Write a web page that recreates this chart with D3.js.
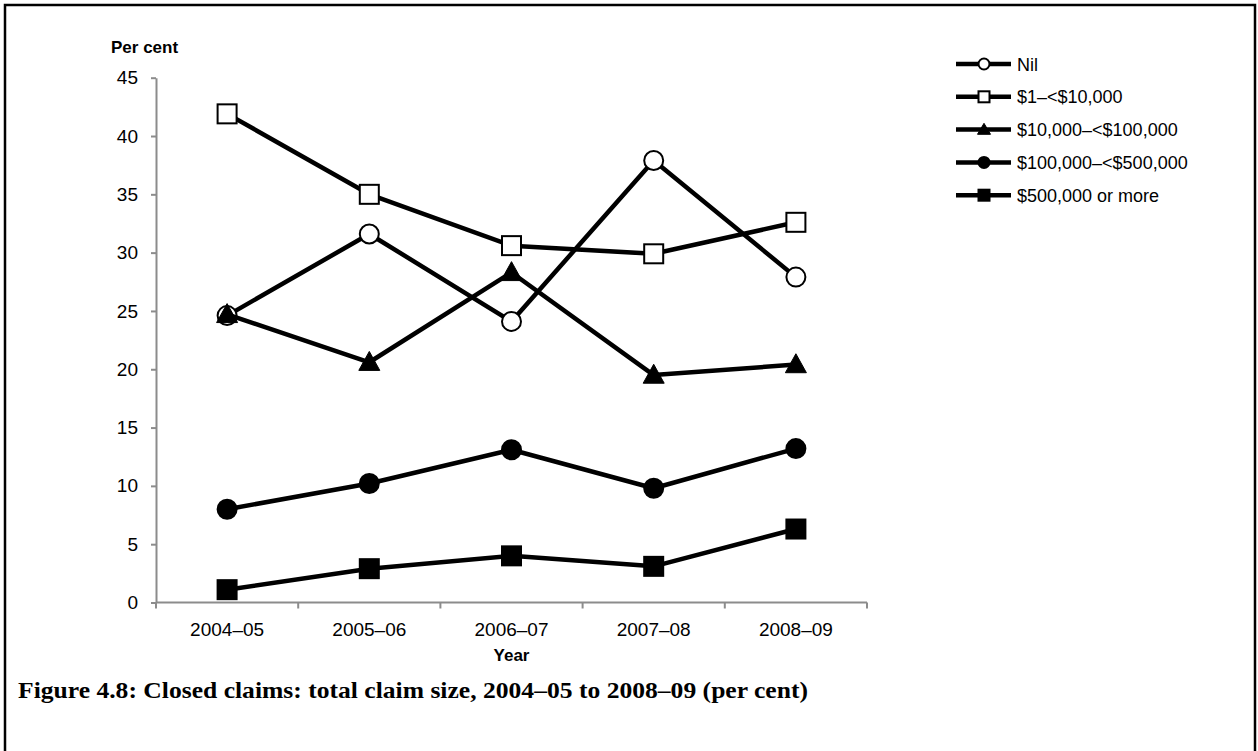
<!DOCTYPE html>
<html>
<head>
<meta charset="utf-8">
<script src="https://cdn.jsdelivr.net/npm/d3@7"></script>
<style>
  html, body { margin: 0; padding: 0; background: #fff; }
  svg { display: block; }
</style>
</head>
<body>
<svg id="chart" width="1258" height="751"></svg>
<script>
// Financial years on the category axis
const years = ["2004\u201305", "2005\u201306", "2006\u201307", "2007\u201308", "2008\u201309"];

// Share of closed claims (per cent) by total claim size
const nilValues      = [24.6, 31.6, 24.1, 37.9, 27.9];
const under10kValues = [41.9, 35.0, 30.6, 29.9, 32.6];
const under100kValues = [24.7, 20.6, 28.3, 19.5, 20.4];
const under500kValues = [8.0, 10.2, 13.1, 9.8, 13.2];
const over500kValues = [1.1, 2.9, 4.0, 3.1, 6.3];

const seriesNames = ["Nil", "$1\u2013<$10,000", "$10,000\u2013<$100,000", "$100,000\u2013<$500,000", "$500,000 or more"];
const seriesSymbols = ["circle-open", "square-open", "triangle", "circle", "square"];
const yTicks = [0, 5, 10, 15, 20, 25, 30, 35, 40, 45];

const series = [nilValues, under10kValues, under100kValues, under500kValues, over500kValues]
  .map((values, i) => ({ name: seriesNames[i], symbol: seriesSymbols[i], values }));

const svg = d3.select("#chart");
const font = "'Liberation Sans', Arial, Helvetica, sans-serif";

// Outer frame
svg.append("rect")
  .attr("x", 5).attr("y", 5)
  .attr("width", 1250).attr("height", 800)
  .attr("fill", "none").attr("stroke", "#000").attr("stroke-width", 2.5);

const plot = { left: 156, right: 867, top: 77.7, bottom: 602.5 };

const x = d3.scaleBand().domain(years).range([plot.left, plot.right]);
const y = d3.scaleLinear().domain([0, 45]).range([plot.bottom, plot.top]);

// Y axis
const yAxis = svg.append("g")
  .attr("transform", `translate(${plot.left},0)`)
  .call(d3.axisLeft(y).tickValues(yTicks).tickSize(5).tickPadding(13).tickSizeOuter(0));
yAxis.select(".domain").attr("stroke", "#8c8c8c").attr("stroke-width", 2);
yAxis.selectAll(".tick line").attr("stroke", "#8c8c8c").attr("stroke-width", 2);
yAxis.selectAll(".tick text")
  .attr("font-family", font).attr("font-size", 19).attr("fill", "#000");

// X axis: ticks at category boundaries
const xAxisG = svg.append("g").attr("transform", `translate(0,${plot.bottom})`);
xAxisG.append("line")
  .attr("x1", plot.left).attr("x2", plot.right)
  .attr("stroke", "#8c8c8c").attr("stroke-width", 2);
const bounds = years.map(d => x(d)).concat([x(years[years.length - 1]) + x.bandwidth()]);
xAxisG.selectAll("line.tick").data(bounds).join("line")
  .attr("class", "tick")
  .attr("x1", d => d).attr("x2", d => d)
  .attr("y1", 0).attr("y2", 6)
  .attr("stroke", "#8c8c8c").attr("stroke-width", 2);
xAxisG.selectAll("text").data(years).join("text")
  .attr("x", d => x(d) + x.bandwidth() / 2)
  .attr("y", 33.5)
  .attr("text-anchor", "middle")
  .attr("font-family", font).attr("font-size", 19)
  .text(d => d);

// Axis titles
svg.append("text")
  .attr("x", 111).attr("y", 53)
  .attr("font-family", font).attr("font-size", 17).attr("font-weight", "bold")
  .text("Per cent");
svg.append("text")
  .attr("x", (plot.left + plot.right) / 2).attr("y", 661)
  .attr("text-anchor", "middle")
  .attr("font-family", font).attr("font-size", 17).attr("font-weight", "bold")
  .text("Year");

// Marker drawing
function drawMarker(sel, symbol, size) {
  const half = size / 2;
  if (symbol === "circle-open" || symbol === "circle") {
    sel.append("circle")
      .attr("r", half)
      .attr("fill", symbol === "circle" ? "#000" : "#fff")
      .attr("stroke", "#000").attr("stroke-width", 2);
  } else if (symbol === "square-open" || symbol === "square") {
    sel.append("rect")
      .attr("x", -half).attr("y", -half)
      .attr("width", size).attr("height", size)
      .attr("fill", symbol === "square" ? "#000" : "#fff")
      .attr("stroke", "#000").attr("stroke-width", 2);
  } else if (symbol === "triangle") {
    const h = size * 0.95;
    sel.append("path")
      .attr("d", `M0,${-h * 0.6}L${half + 1},${h * 0.45}L${-half - 1},${h * 0.45}Z`)
      .attr("fill", "#000").attr("stroke", "#000").attr("stroke-width", 1);
  }
}

const line = d3.line()
  .x((d, i) => x(years[i]) + x.bandwidth() / 2)
  .y(d => y(d));

// Draw series in order
series.forEach(s => {
  const g = svg.append("g");
  g.append("path")
    .attr("d", line(s.values))
    .attr("fill", "none").attr("stroke", "#000").attr("stroke-width", 4.5)
    .attr("stroke-linejoin", "round");
  s.values.forEach((v, i) => {
    const m = g.append("g")
      .attr("transform", `translate(${x(years[i]) + x.bandwidth() / 2},${y(v)})`);
    drawMarker(m, s.symbol, 19);
  });
});

// Legend
const legend = svg.append("g").attr("transform", "translate(956,64)");
series.forEach((s, i) => {
  const row = legend.append("g").attr("transform", `translate(0,${i * 32.8})`);
  row.append("line")
    .attr("x1", 0).attr("x2", 55)
    .attr("stroke", "#000").attr("stroke-width", 4.5);
  const m = row.append("g").attr("transform", "translate(28,0)");
  drawMarker(m, s.symbol, 11);
  row.append("text")
    .attr("x", 61).attr("y", 6.5)
    .attr("font-family", font).attr("font-size", 18)
    .text(s.name);
});

// Figure caption
svg.append("text")
  .attr("x", 18).attr("y", 698)
  .attr("font-family", "'Liberation Serif', 'Times New Roman', serif")
  .attr("font-size", 23).attr("font-weight", "bold")
  .attr("textLength", 790).attr("lengthAdjust", "spacingAndGlyphs")
  .text("Figure 4.8: Closed claims: total claim size, 2004\u201305 to 2008\u201309 (per cent)");
</script>
</body>
</html>
